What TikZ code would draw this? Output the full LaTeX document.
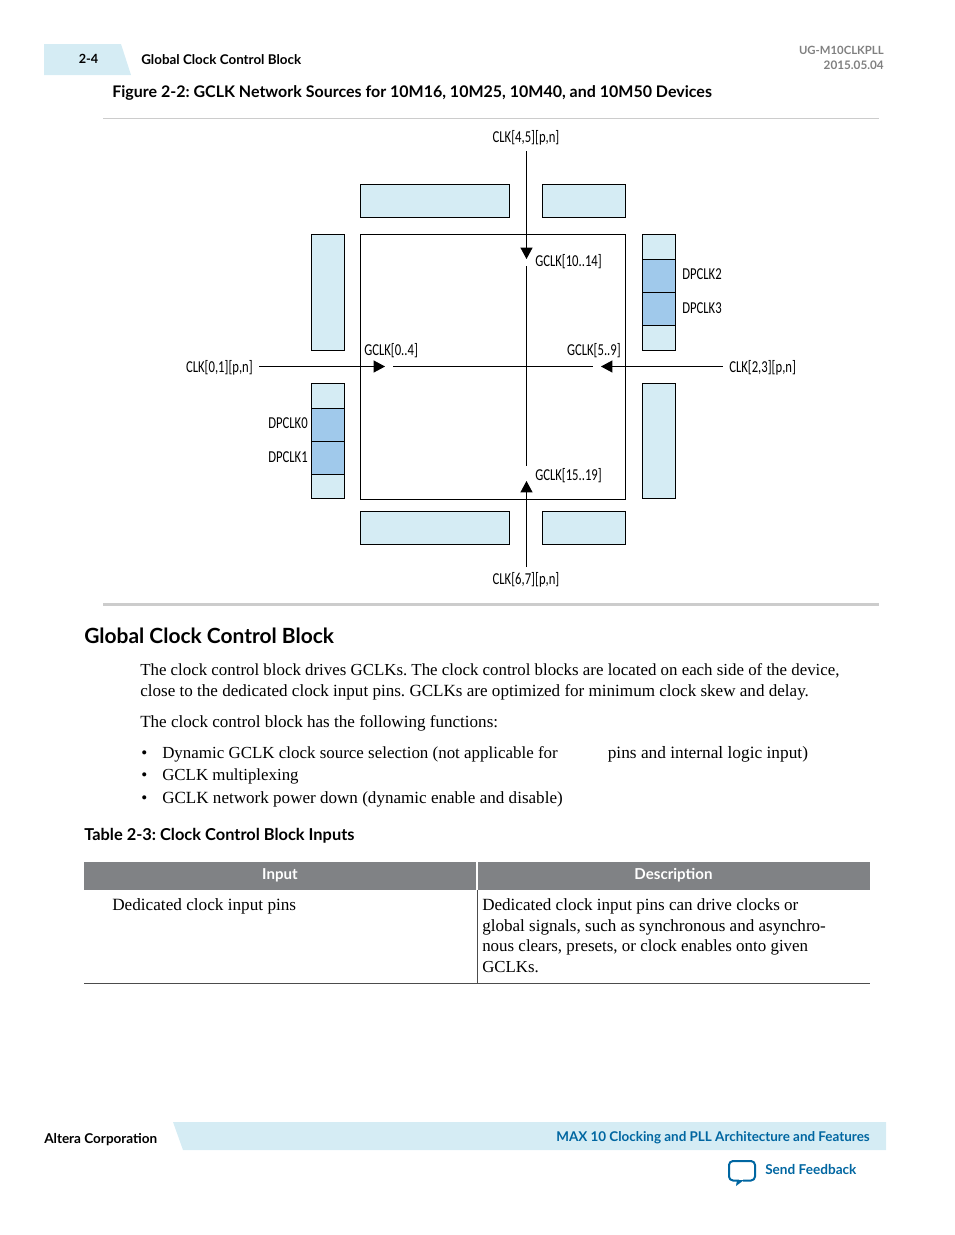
\documentclass[tikz,border=0pt]{standalone}
\usepackage{fontspec}
\setmainfont{Liberation Serif}
\newfontfamily\headfont{Lato}
\newfontfamily\labelfont[FakeStretch=0.76]{Carlito}
\frenchspacing
\definecolor{paleBlue}{RGB}{213, 236, 244}
\definecolor{dpBlue}{RGB}{160, 201, 235}
\definecolor{linkBlue}{RGB}{0, 102, 161}
\definecolor{bandGray}{RGB}{128, 130, 133}
\usetikzlibrary{arrows.meta, positioning}
\tikzset{
    lbl/.style={font=\labelfont\fontsize{12.5}{15}\selectfont, inner sep=0pt},
    bodytxt/.style={font=\fontsize{12.8}{15}\selectfont, anchor=base west, inner sep=0pt},
    headtxt/.style={font=\headfont\bfseries\fontsize{12}{15}\selectfont, anchor=base west, inner sep=0pt},
    lightbox/.style={draw=black, line width=0.6pt, fill=paleBlue},
    dpbox/.style={draw=black, line width=0.6pt, fill=dpBlue},
    clkline/.style={line width=0.6pt},
    clkarrow/.style={line width=0.6pt, -{Triangle[length=8.5pt, width=9pt]}}
}
\begin{document}
\begin{tikzpicture}[x=0.75pt, y=-0.75pt]
    \useasboundingbox (0,0) rectangle (954,1235);

    % Page header
    \fill[paleBlue] (44,44) -- (121,44) -- (131,75) -- (44,75) -- cycle;
    \node[headtxt, font=\headfont\bfseries\fontsize{9.5}{12}\selectfont] (pagenum) at (78.5,63) {2-4};
    \node[headtxt, font=\headfont\bfseries\fontsize{10.05}{12}\selectfont] (running) at (141,64) {Global Clock Control Block};
    \node[headtxt, anchor=base east, text=gray, font=\headfont\bfseries\fontsize{8.5}{12}\selectfont] (docid) at (884,54) {UG-M10CLKPLL};
    \node[headtxt, anchor=base east, text=gray, font=\headfont\bfseries\fontsize{8.8}{12}\selectfont] (docdate) at (884,69) {2015.05.04};
    \node[headtxt] (figtitle) at (112,97) {Figure 2-2: GCLK Network Sources for 10M16, 10M25, 10M40, and 10M50 Devices};

    % Figure rules
    \draw[line width=0.6pt, gray!40] (103,118.5) -- (879,118.5);
    \draw[line width=2.2pt, gray!40] (103,604.5) -- (879,604.5);

    % Device outline
    \draw[line width=0.7pt] (360.5,234.5) rectangle (625.5,499.5);

    % Top and bottom blocks
    \draw[lightbox] (360.5,184.5) rectangle (509.5,217.5);
    \draw[lightbox] (542.5,184.5) rectangle (625.5,217.5);
    \draw[lightbox] (360.5,511.5) rectangle (509.5,544.5);
    \draw[lightbox] (542.5,511.5) rectangle (625.5,544.5);

    % Left blocks
    \draw[lightbox] (311.5,234.5) rectangle (344.5,350.5);
    \draw[lightbox] (311.5,383.5) rectangle (344.5,408.5);
    \draw[dpbox] (311.5,408.5) rectangle (344.5,441.5);
    \draw[dpbox] (311.5,441.5) rectangle (344.5,474.5);
    \draw[lightbox] (311.5,474.5) rectangle (344.5,498.5);

    % Right blocks
    \draw[lightbox] (642.5,234.5) rectangle (675.5,259.5);
    \draw[dpbox] (642.5,259.5) rectangle (675.5,292.5);
    \draw[dpbox] (642.5,292.5) rectangle (675.5,325.5);
    \draw[lightbox] (642.5,325.5) rectangle (675.5,350.5);
    \draw[lightbox] (642.5,383.5) rectangle (675.5,498.5);

    % Clock inputs
    \node[lbl] (clkn) at (526,138) {CLK[4,5][p,n]};
    \node[lbl] (clks) at (526,580) {CLK[6,7][p,n]};
    \node[lbl, anchor=east] (clkw) at (253,368) {CLK[0,1][p,n]};
    \node[lbl, anchor=west] (clke) at (729,368) {CLK[2,3][p,n]};
    \coordinate (tipn) at (526.5,259);
    \coordinate (tips) at (526.5,481);
    \coordinate (tipw) at (385,366.5);
    \coordinate (tipe) at (601,366.5);
    \coordinate (startn) at (526.5,151);
    \coordinate (starts) at (526.5,567);
    \coordinate (startw) at (259,366.5);
    \coordinate (starte) at (722.5,366.5);
    \draw[clkarrow] (startn) -- (tipn);
    \draw[clkarrow] (starts) -- (tips);
    \draw[clkarrow] (startw) -- (tipw);
    \draw[clkarrow] (starte) -- (tipe);

    % Inner GCLK lines
    \coordinate (gapn) at (526.5,266);
    \coordinate (gaps) at (526.5,466);
    \coordinate (gapw) at (393,366.5);
    \coordinate (gape) at (593,366.5);
    \draw[clkline] (gapn) -- (gaps);
    \draw[clkline] (gapw) -- (gape);

    % GCLK labels
    \node[lbl, anchor=west] (gclkn) at (535,262) {GCLK[10..14]};
    \node[lbl, anchor=west] (gclks) at (535,476) {GCLK[15..19]};
    \node[lbl, anchor=west] (gclkw) at (364,351) {GCLK[0..4]};
    \node[lbl, anchor=east] (gclke) at (621,351) {GCLK[5..9]};

    % DPCLK labels
    \node[lbl, anchor=east] (dp0) at (308,423) {DPCLK0};
    \node[lbl, anchor=east] (dp1) at (308,457) {DPCLK1};
    \node[lbl, anchor=west] (dp2) at (682,274) {DPCLK2};
    \node[lbl, anchor=west] (dp3) at (682,308) {DPCLK3};

    % Section text
    \node[headtxt, font=\headfont\bfseries\fontsize{15.7}{18}\selectfont] (section) at (84,643) {Global Clock Control Block};
    \node[bodytxt, font=\fontsize{12.65}{15}\selectfont] (para1) at (140,675) {The clock control block drives GCLKs. The clock control blocks are located on each side of the device,};
    \node[bodytxt] (para2) at (140,696) {close to the dedicated clock input pins. GCLKs are optimized for minimum clock skew and delay.};
    \node[bodytxt] (para3) at (140,727) {The clock control block has the following functions:};
    \node[bodytxt] (dot1) at (141,758) {•};
    \node[bodytxt, font=\fontsize{12.7}{15}\selectfont] (item1) at (162,758) {Dynamic GCLK clock source selection (not applicable for};
    \node[bodytxt, font=\fontsize{13}{15}\selectfont] (item1b) at (607.5,758) {pins and internal logic input)};
    \node[bodytxt] (dot2) at (141,780) {•};
    \node[bodytxt, font=\fontsize{12.65}{15}\selectfont] (item2) at (162,780) {GCLK multiplexing};
    \node[bodytxt] (dot3) at (141,803) {•};
    \node[bodytxt] (item3) at (162,803) {GCLK network power down (dynamic enable and disable)};

    % Table
    \node[headtxt, font=\headfont\bfseries\fontsize{12.3}{15}\selectfont] (tabtitle) at (84,840) {Table 2-3: Clock Control Block Inputs};
    \fill[bandGray] (84,862) rectangle (476,890);
    \fill[bandGray] (478,862) rectangle (870,890);
    \node[headtxt, anchor=base, text=white, font=\headfont\bfseries\fontsize{11.3}{12}\selectfont] (colinput) at (280,879) {Input};
    \node[headtxt, anchor=base, text=white, font=\headfont\bfseries\fontsize{11.3}{12}\selectfont] (coldesc) at (673.5,879) {Description};
    \draw[line width=0.6pt, black!70] (477.5,890) -- (477.5,983.5);
    \draw[line width=0.6pt, black!70] (84,983.5) -- (870,983.5);
    \node[bodytxt, font=\fontsize{12.9}{15}\selectfont] (cell1) at (112,910) {Dedicated clock input pins};
    \node[bodytxt] (cell2) at (482,910) {Dedicated clock input pins can drive clocks or};
    \node[bodytxt] (cell3) at (482,931) {global signals, such as synchronous and asynchro-};
    \node[bodytxt, font=\fontsize{12.7}{15}\selectfont] (cell4) at (482,951) {nous clears, presets, or clock enables onto given};
    \node[bodytxt, font=\fontsize{12.6}{15}\selectfont] (cell5) at (482,972) {GCLKs.};

    % Page footer
    \node[headtxt, font=\headfont\bfseries\fontsize{10.15}{12}\selectfont] (corp) at (44,1143) {Altera Corporation};
    \fill[paleBlue] (173,1122) -- (886,1122) -- (886,1150) -- (183,1150) -- cycle;
    \node[headtxt, anchor=base east, text=linkBlue, font=\headfont\bfseries\fontsize{10.07}{12}\selectfont] (manual) at (870,1141) {MAX 10 Clocking and PLL Architecture and Features};
    \node[headtxt, text=linkBlue, font=\headfont\bfseries\fontsize{10.2}{12}\selectfont] (feedback) at (765,1174) {Send Feedback};
    \draw[linkBlue, line width=1.5pt, rounded corners=3pt, line join=round]
        (739,1180.5) -- (729,1180.5) -- (729,1161) -- (755,1161) -- (755,1180.5) -- (743,1180.5);
    \fill[linkBlue] (737,1180) -- (744,1180) -- (736,1186) -- cycle;
\end{tikzpicture}
\end{document}
